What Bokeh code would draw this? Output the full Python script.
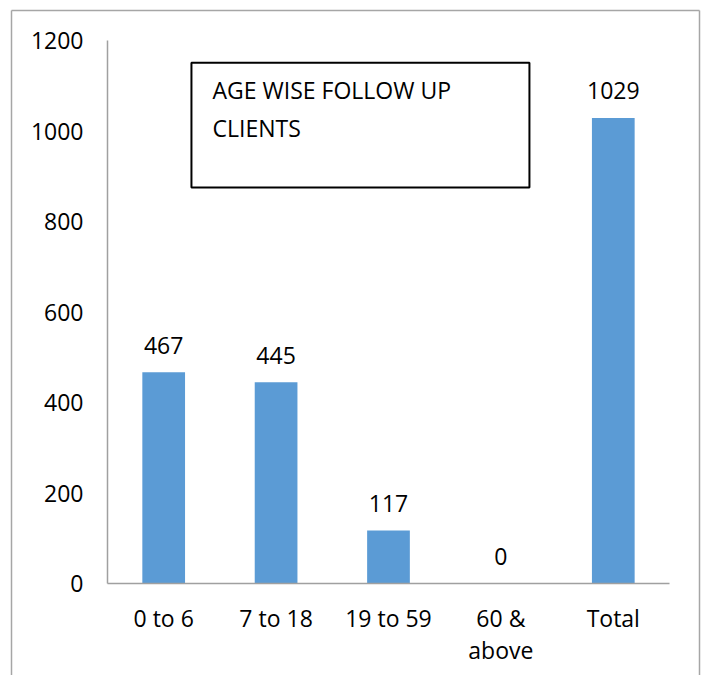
from bokeh.plotting import figure
from bokeh.models import (ColumnDataSource, Range1d, LabelSet, Label, BoxAnnotation,
                          FixedTicker, LinearAxis)
from bokeh.core.properties import value
from bokeh.embed import file_html
from bokeh.resources import INLINE

categories = ["0 to 6", "7 to 18", "19 to 59", "60 &\nabove", "Total"]
clients = [467, 445, 117, 0, 1029]
y_ticks = [0, 200, 400, 600, 800, 1000, 1200]

FONT = "Open Sans"
FS = "23px"
xs = [i + 0.5 for i in range(len(categories))]
src = ColumnDataSource(dict(x=xs, cat=categories, val=clients, lab=[str(v) for v in clients]))

p = figure(width=704, height=675, output_backend="svg", toolbar_location=None,
           x_range=Range1d(-0.854, 5.267), y_range=Range1d(-203.3, 1266.3),
           x_axis_location=None, y_axis_location=None,
           min_border_left=11, min_border_right=5, min_border_top=10, min_border_bottom=0)
p.outline_line_color = None
p.background_fill_color = "white"
p.border_fill_color = "white"
p.xgrid.visible = False
p.ygrid.visible = False

p.vbar(x="x", top="val", width=0.38, source=src, fill_color="#5b9bd5", line_color=None)

p.add_layout(LabelSet(x="x", y="val", text="lab", source=src, y_offset=27,
                      text_align="center", text_baseline="middle",
                      text_font=value(FONT), text_font_size=FS, text_color="#000000"))

# data axes, fixed at the plot-area origin
xaxis = LinearAxis(fixed_location=0, bounds=(0, len(categories)),
                   ticker=FixedTicker(ticks=xs),
                   major_label_overrides={x: c for x, c in zip(xs, categories)})
yaxis = LinearAxis(fixed_location=0, bounds=(y_ticks[0], y_ticks[-1]),
                   ticker=FixedTicker(ticks=y_ticks))
for ax in (xaxis, yaxis):
    ax.axis_line_color = "#a0a0a0"
    ax.axis_line_width = 1.5
    ax.major_tick_line_color = None
    ax.minor_tick_line_color = None
    ax.major_label_text_font = FONT
    ax.major_label_text_font_size = FS
    ax.major_label_text_color = "#000000"
yaxis.major_label_standoff = 18
xaxis.major_label_standoff = 12
xaxis.major_label_text_line_height = 1.03
p.add_layout(xaxis, "below")
p.add_layout(yaxis, "left")

# outer chart border (left, top, right edges)
for side in ("left", "above", "right"):
    b = LinearAxis(ticker=FixedTicker(ticks=[]), axis_line_color="#a6a6a6", axis_line_width=1.5,
                   major_tick_line_color=None, minor_tick_line_color=None,
                   major_label_text_font_size="0px", major_label_standoff=0)
    p.add_layout(b, side)

# title text box
p.add_layout(BoxAnnotation(left=0.747, right=3.754, top=1151, bottom=875,
                           fill_color=None, line_color="#000000", line_alpha=1.0, line_width=2))
p.add_layout(Label(x=0.934, y=1091.7, text="AGE WISE FOLLOW UP", text_baseline="middle",
                   text_font=FONT, text_font_size=FS, text_color="#000000"))
p.add_layout(Label(x=0.934, y=1007.7, text="CLIENTS", text_baseline="middle",
                   text_font=FONT, text_font_size=FS, text_color="#000000"))

open("out.html", "w").write(file_html(p, INLINE))
